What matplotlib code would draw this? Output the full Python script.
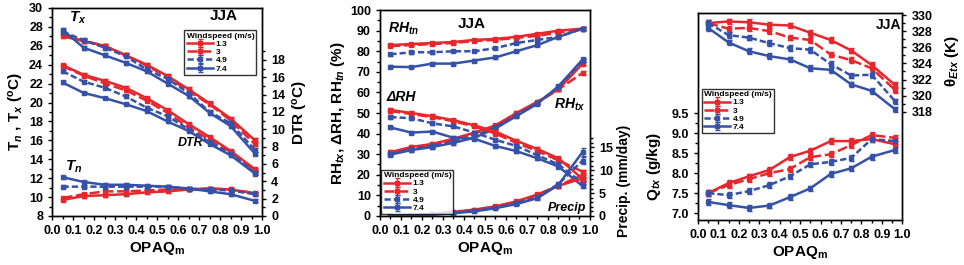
import matplotlib
matplotlib.use("Agg")
import matplotlib.pyplot as plt
from matplotlib.ticker import MultipleLocator, FixedLocator

plt.rcParams['font.family'] = ['Liberation Sans', 'DejaVu Sans']
plt.rcParams['font.weight'] = 'bold'
plt.rcParams['mathtext.fontset'] = 'custom'
plt.rcParams['mathtext.rm'] = 'Liberation Sans:bold'
plt.rcParams['mathtext.it'] = 'Liberation Sans:bold:italic'
plt.rcParams['mathtext.bf'] = 'Liberation Sans:bold'

opaq = [0.05, 0.15, 0.25, 0.35, 0.45, 0.55, 0.65, 0.75, 0.85, 0.965]
windspeeds = ['1.3', '3', '4.9', '7.4']

# Panel 1
tx = {
    '1.3': [27.0, 26.5, 26.0, 25.0, 24.0, 22.8, 21.4, 19.9, 18.3, 16.0],
    '3':   [27.2, 26.5, 26.0, 25.0, 23.9, 22.7, 21.2, 19.8, 18.1, 15.6],
    '4.9': [27.5, 26.6, 25.8, 24.9, 23.5, 22.5, 21.0, 19.0, 17.8, 15.0],
    '7.4': [27.7, 25.8, 25.0, 24.2, 23.3, 22.0, 20.7, 18.9, 17.5, 14.6],
}
tn = {
    '1.3': [9.7, 10.1, 10.2, 10.3, 10.5, 10.6, 10.8, 10.9, 10.8, 10.4],
    '3':   [9.9, 10.3, 10.6, 10.6, 10.7, 10.8, 10.8, 10.9, 10.8, 10.4],
    '4.9': [11.1, 11.1, 11.1, 11.1, 11.1, 11.1, 10.9, 10.8, 10.7, 10.3],
    '7.4': [12.1, 11.6, 11.3, 11.3, 11.2, 11.1, 10.9, 10.6, 10.3, 9.6],
}
dtr = {
    '1.3': [17.4, 16.3, 15.6, 14.8, 13.6, 12.2, 10.6, 9.1, 7.5, 5.4],
    '3':   [17.3, 16.2, 15.3, 14.5, 13.3, 11.9, 10.2, 8.8, 7.4, 5.2],
    '4.9': [16.7, 15.5, 14.8, 13.8, 12.5, 11.5, 10.0, 8.5, 7.2, 5.0],
    '7.4': [15.4, 14.2, 13.6, 12.9, 12.1, 10.9, 9.8, 8.3, 7.0, 4.9],
}
# Panel 2
rhtn = {
    '1.3': [83.0, 83.5, 84.0, 84.5, 85.5, 86.0, 87.0, 88.5, 90.0, 91.0],
    '3':   [82.5, 83.0, 83.5, 84.0, 85.0, 85.5, 86.5, 87.5, 89.0, 91.0],
    '4.9': [78.5, 79.5, 79.5, 80.0, 80.0, 81.5, 84.0, 85.5, 87.0, 91.0],
    '7.4': [72.5, 72.3, 74.0, 74.0, 75.5, 77.0, 80.0, 83.0, 87.0, 91.0],
}
rhtx = {
    '1.3': [31.0, 33.5, 35.0, 37.5, 40.5, 44.0, 50.0, 55.5, 61.5, 74.0],
    '3':   [30.5, 33.0, 34.5, 37.0, 40.0, 43.5, 49.5, 55.0, 61.5, 69.5],
    '4.9': [30.0, 32.5, 34.0, 36.0, 39.0, 43.0, 49.0, 55.0, 62.5, 75.5],
    '7.4': [29.8, 32.0, 33.5, 35.5, 38.0, 42.5, 48.5, 54.5, 63.0, 76.0],
}
drh = {
    '1.3': [51.5, 50.0, 48.5, 46.5, 44.0, 41.0, 36.5, 32.5, 28.0, 18.0],
    '3':   [51.0, 49.5, 48.0, 46.0, 43.5, 40.0, 35.5, 31.5, 27.0, 21.5],
    '4.9': [48.0, 47.5, 45.0, 43.5, 40.5, 37.0, 34.0, 29.5, 25.0, 16.0],
    '7.4': [43.0, 40.5, 41.0, 38.0, 37.5, 34.0, 31.5, 28.0, 24.0, 14.5],
}
precip = {
    '1.3': [0.0, 0.1, 0.4, 0.9, 1.4, 2.1, 3.2, 4.7, 6.6, 8.2],
    '3':   [0.0, 0.1, 0.4, 0.8, 1.3, 2.0, 3.1, 4.6, 6.6, 9.0],
    '4.9': [0.0, 0.1, 0.3, 0.7, 1.1, 1.8, 2.8, 4.1, 7.0, 12.1],
    '7.4': [0.0, 0.1, 0.3, 0.6, 1.0, 1.7, 2.6, 3.9, 6.8, 14.0],
}
# Panel 3
qtx = {
    '1.3': [7.50, 7.75, 7.92, 8.08, 8.40, 8.56, 8.80, 8.80, 8.85, 8.72],
    '3':   [7.50, 7.70, 7.85, 8.00, 8.10, 8.40, 8.47, 8.70, 8.95, 8.88],
    '4.9': [7.50, 7.45, 7.55, 7.70, 7.92, 8.22, 8.28, 8.38, 8.85, 8.80],
    '7.4': [7.28, 7.20, 7.13, 7.19, 7.40, 7.62, 7.98, 8.12, 8.41, 8.58],
}
theta = {
    '1.3': [329.0, 329.2, 329.1, 328.8, 328.7, 327.8, 326.9, 325.6, 323.8, 321.3],
    '3':   [329.0, 328.3, 328.4, 328.0, 327.2, 326.9, 325.1, 324.4, 323.4, 320.7],
    '4.9': [329.0, 327.5, 327.2, 326.5, 325.9, 325.7, 323.9, 322.5, 322.6, 319.3],
    '7.4': [328.4, 326.6, 325.5, 324.9, 324.5, 323.4, 323.2, 321.4, 320.6, 318.3],
}

RED = '#e8262c'
BLUE = '#3552a8'
styles = {
    '1.3': dict(color=RED, ls='-'),
    '3':   dict(color=RED, ls=(0, (4, 1.5))),
    '4.9': dict(color=BLUE, ls=(0, (2.5, 1.2))),
    '7.4': dict(color=BLUE, ls='-'),
}


def draw(ax, data, err, label=True):
    handles = []
    for w in windspeeds:
        st = styles[w]
        h = ax.errorbar(opaq, data[w], yerr=err, color=st['color'], ls=st['ls'],
                        lw=1.8, marker='s', ms=3.2, capsize=1.8, elinewidth=1.0,
                        capthick=1.0, label=w if label else None)
        handles.append(h)
    return handles


def style_axes(ax):
    ax.tick_params(direction='out', labelsize=9, width=1, length=3)
    ax.tick_params(which='minor', direction='out', width=1, length=2)
    for s in ax.spines.values():
        s.set_linewidth(1)


def legend(ax, handles, **kw):
    leg = ax.legend(handles=handles, labels=windspeeds, title='Windspeed (m/s)',
                    fontsize=6, title_fontsize=6, frameon=True, fancybox=False,
                    edgecolor='black', handlelength=3.2, borderpad=0.25,
                    labelspacing=0.05, handletextpad=0.3, borderaxespad=0.2, **kw)
    leg.get_frame().set_linewidth(1)
    leg._legend_box.align = 'left'
    return leg


fig = plt.figure(figsize=(9.64, 2.65), dpi=100)

# ---------- Panel 1 ----------
ax1 = fig.add_axes([0.054, 0.185, 0.218, 0.785])
ax1r = ax1.twinx()
h1 = draw(ax1, tx, 0.2)
draw(ax1, tn, 0.15, label=False)
draw(ax1r, dtr, 0.15, label=False)
ax1.set_xlim(0, 1)
ax1.set_ylim(8, 30)
ax1r.set_ylim(0, 24)
ax1.xaxis.set_major_locator(MultipleLocator(0.1))
ax1.xaxis.set_minor_locator(MultipleLocator(0.05))
ax1.yaxis.set_major_locator(MultipleLocator(2))
ax1.yaxis.set_minor_locator(MultipleLocator(1))
ax1r.yaxis.set_major_locator(FixedLocator(list(range(0, 19, 2))))
ax1r.yaxis.set_minor_locator(FixedLocator(list(range(1, 20, 2))))
ax1.set_xticklabels([f'{v:.1f}' for v in ax1.get_xticks()])
ax1.set_xlabel('OPAQ$_\\mathregular{m}$', fontsize=11, fontweight='bold', labelpad=2)
ax1.set_ylabel('T$_n$ , T$_x$ ($^\\mathregular{o}$C)', fontsize=11, fontweight='bold', labelpad=2)
ax1r.set_ylabel('DTR ($^\\mathregular{o}$C)', fontsize=11, fontweight='bold', labelpad=4)
style_axes(ax1); style_axes(ax1r)
ax1.text(0.08, 28.6, '$T_x$', fontsize=11)
ax1.text(0.75, 28.7, 'JJA', fontsize=11, fontweight='bold')
ax1.text(0.6, 15.4, 'DTR', fontsize=9, fontstyle='italic', fontweight='bold')
ax1.text(0.06, 12.8, '$T_n$', fontsize=11)
legend(ax1r, h1, loc='upper right', bbox_to_anchor=(0.98, 0.9))

# ---------- Panel 2 ----------
ax2 = fig.add_axes([0.394, 0.185, 0.218, 0.777])
ax2r = ax2.twinx()
h2 = draw(ax2, rhtn, 0.6)
draw(ax2, rhtx, 0.8, label=False)
draw(ax2, drh, 0.8, label=False)
draw(ax2r, precip, [0, 0, 0, 0, 0.1, 0.2, 0.3, 0.4, 0.5, 0.8], label=False)
ax2.set_xlim(0, 1)
ax2.set_ylim(0, 100)
ax2r.set_ylim(0, 45)
ax2.xaxis.set_major_locator(MultipleLocator(0.1))
ax2.xaxis.set_minor_locator(MultipleLocator(0.05))
ax2.yaxis.set_major_locator(MultipleLocator(10))
ax2.yaxis.set_minor_locator(MultipleLocator(5))
ax2r.yaxis.set_major_locator(FixedLocator([0, 5, 10, 15]))
ax2r.yaxis.set_minor_locator(FixedLocator([1, 2, 3, 4, 6, 7, 8, 9, 11, 12, 13, 14, 16, 17]))
ax2.set_xticklabels([f'{v:.1f}' for v in ax2.get_xticks()])
ax2.set_xlabel('OPAQ$_\\mathregular{m}$', fontsize=11, fontweight='bold', labelpad=2)
ax2.set_ylabel('RH$_{tx}$, ΔRH, RH$_{tn}$ (%)', fontsize=11, fontweight='bold', labelpad=2)
ax2r.set_ylabel('Precip. (mm/day)', fontsize=10, fontweight='bold', labelpad=4)
ax2r.yaxis.set_label_coords(1.13, 0.17)
style_axes(ax2); style_axes(ax2r)
ax2.text(0.04, 89, '$RH_{tn}$', fontsize=10)
ax2.text(0.37, 91.5, 'JJA', fontsize=11, fontweight='bold')
ax2.text(0.03, 56, 'ΔRH', fontsize=10, fontstyle='italic', fontweight='bold')
ax2.text(0.83, 52, '$RH_{tx}$', fontsize=10)
ax2.text(0.8, 2.5, 'Precip', fontsize=9, fontstyle='italic', fontweight='bold')
legend(ax2r, h2, loc='lower left', bbox_to_anchor=(0.0, 0.0))

# ---------- Panel 3 ----------
ax3 = fig.add_axes([0.724, 0.170, 0.212, 0.781])
ax3r = ax3.twinx()
h3 = draw(ax3, qtx, 0.07)
draw(ax3r, theta, 0.35, label=False)
ax3.set_xlim(0, 1)
ax3.set_ylim(6.83, 12.0)
ax3r.set_ylim(304.6, 330.25)
ax3.xaxis.set_major_locator(MultipleLocator(0.1))
ax3.xaxis.set_minor_locator(MultipleLocator(0.05))
ax3.yaxis.set_major_locator(FixedLocator([7.0, 7.5, 8.0, 8.5, 9.0, 9.5]))
ax3.yaxis.set_minor_locator(FixedLocator([7.25, 7.75, 8.25, 8.75, 9.25]))
ax3r.yaxis.set_major_locator(FixedLocator(list(range(318, 331, 2))))
ax3r.yaxis.set_minor_locator(FixedLocator(list(range(319, 331, 2))))
ax3.set_yticklabels([f'{v:.1f}' for v in ax3.get_yticks()])
ax3.set_xticklabels([f'{v:.1f}' for v in ax3.get_xticks()])
ax3.set_xlabel('OPAQ$_\\mathregular{m}$', fontsize=11, fontweight='bold', labelpad=2)
ax3.set_ylabel('Q$_{tx}$ (g/kg)', fontsize=11, fontweight='bold', labelpad=4)
ax3.yaxis.set_label_coords(-0.17, 0.26)
ax3r.set_ylabel('θ$_{Etx}$ (K)', fontsize=11, fontweight='bold', labelpad=4)
ax3r.yaxis.set_label_coords(1.2, 0.77)
style_axes(ax3); style_axes(ax3r)
ax3.text(0.87, 11.6, 'JJA', fontsize=10, fontweight='bold')
legend(ax3r, h3, loc='upper left', bbox_to_anchor=(0.01, 0.64))

fig.savefig('out.png', dpi=100)
